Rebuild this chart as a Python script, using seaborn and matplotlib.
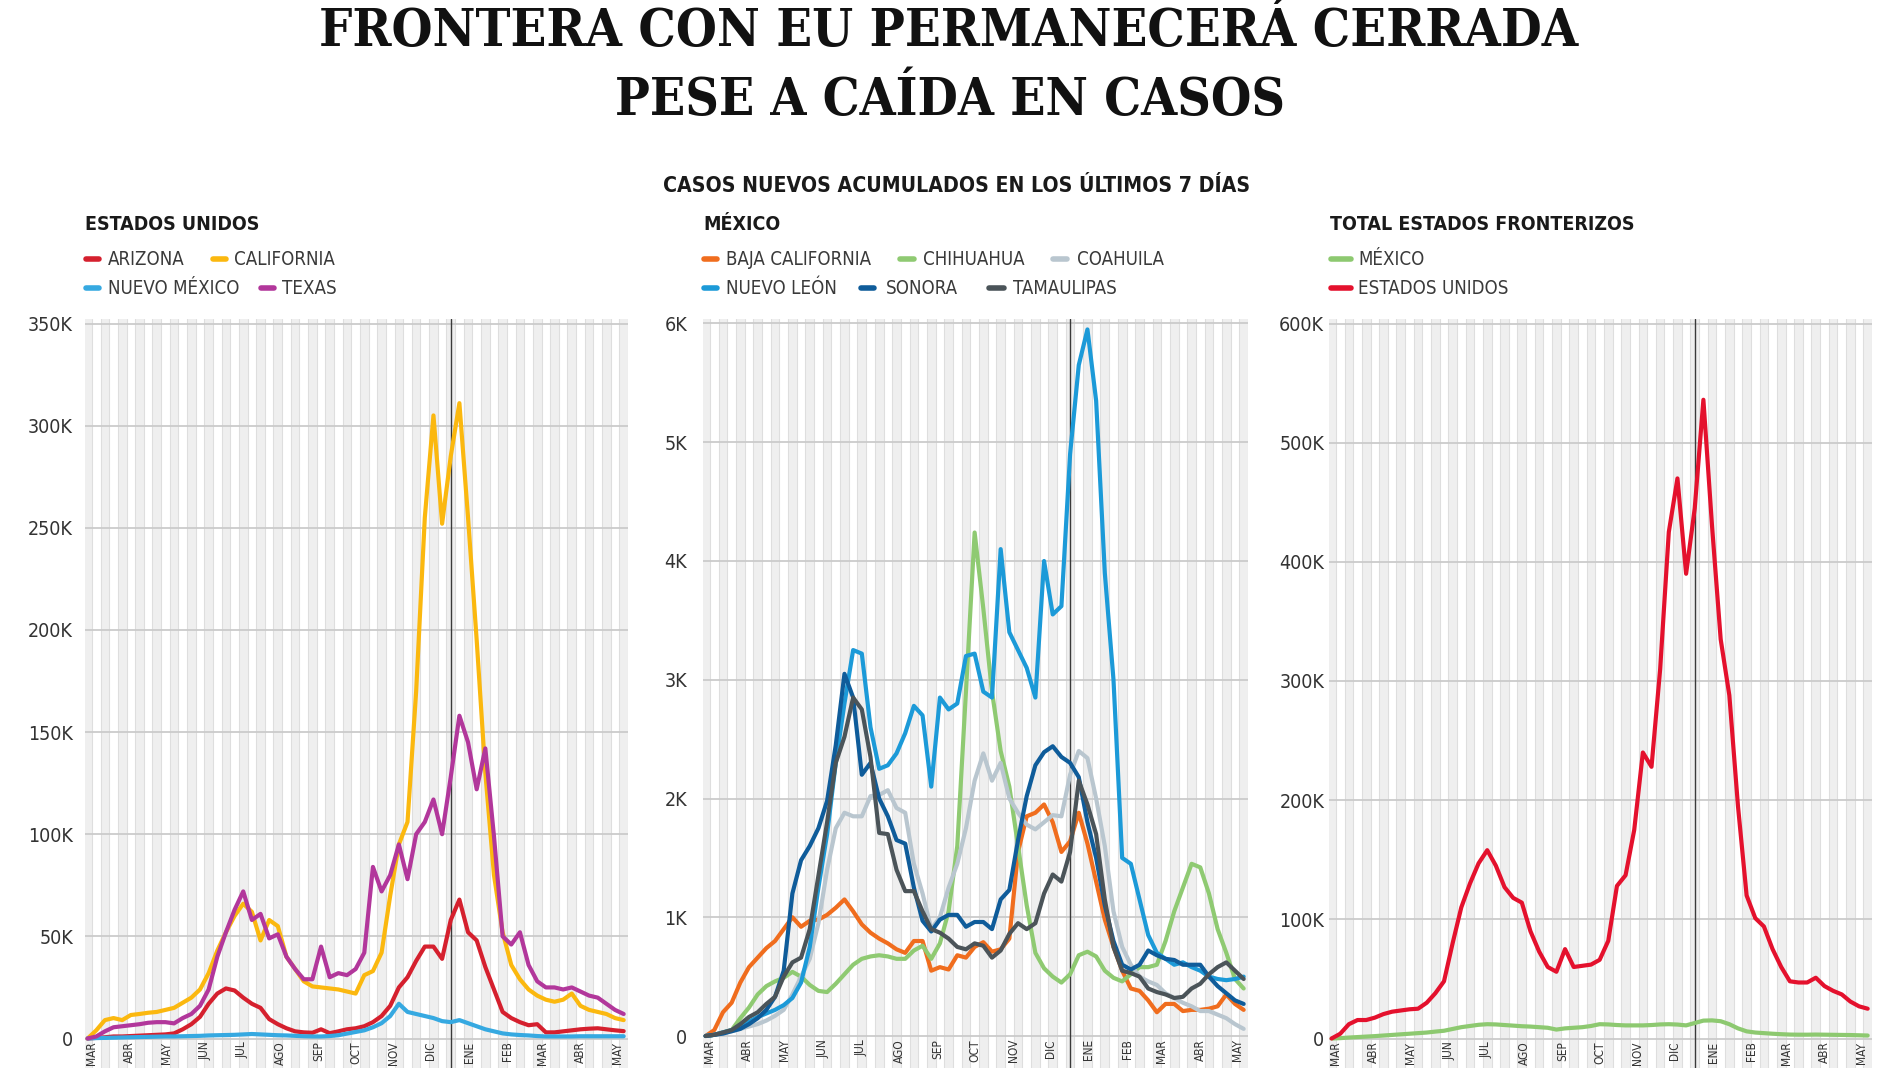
import numpy as np
import pandas as pd
import matplotlib
matplotlib.use("Agg")
import matplotlib.pyplot as plt
import matplotlib.dates as mdates
import seaborn as sns
from matplotlib.lines import Line2D
from matplotlib import font_manager as fm

# ---------------- DATA (weekly 7-day new cases, in thousands) ----------------
fecha_inicio = "2020-03-13"
n_semanas = 63

arizona = [0, 0.3, 0.6, 1, 1, 1.2, 1.4, 1.6, 1.8, 2,
           2.5, 4.5, 7, 10.6, 17, 22, 24.5, 23.5, 20, 17,
           15, 9.5, 7, 5, 3.5, 3, 2.8, 4.5, 2.6, 3.5,
           4.5, 5, 6, 8, 11, 16, 25, 30, 38, 45,
           45, 39, 58, 68, 52, 48, 35, 24, 13, 10,
           8, 6.5, 7, 3, 3, 3.5, 4, 4.5, 4.8, 5,
           4.5, 4, 3.6]
california = [0, 4, 9, 10, 9, 11.5, 12, 12.6, 13, 14,
              15, 17.5, 20, 24, 32, 43, 52, 60, 66, 62,
              48, 58, 55, 40, 34, 28, 25.5, 25, 24.5, 24,
              23, 22, 31, 33, 42, 70, 95, 106, 170, 255,
              305, 252, 285, 311, 255, 195, 130, 80, 52, 36,
              29, 24, 21, 19, 18, 19, 22, 16, 14, 13,
              12, 10, 9]
nuevo_mexico = [0, 0.2, 0.3, 0.4, 0.5, 0.6, 0.7, 0.8, 0.9, 1,
                1, 1.1, 1.2, 1.3, 1.5, 1.6, 1.7, 1.8, 2, 2.2,
                2, 1.8, 1.6, 1.5, 1.3, 1.1, 1, 1, 1.2, 1.6,
                2.4, 3.2, 4, 5.5, 7.5, 11, 17, 13, 12, 11,
                10, 8.5, 8, 9, 7.5, 6, 4.5, 3.5, 2.5, 2,
                1.7, 1.5, 1.2, 1, 1, 1, 1, 1.1, 1.1, 1.1,
                1.1, 1.1, 1.1]
texas = [0, 1, 3.5, 5.5, 6, 6.5, 7, 7.7, 8, 8,
         7.4, 10, 12, 16, 24, 40, 52, 63, 72, 58,
         61, 49, 51, 40, 34, 29, 29, 45, 30, 32,
         31, 34, 42, 84, 72, 80, 95, 78, 100, 106,
         117, 100, 128, 158, 145, 122, 142, 99, 50, 46,
         52, 36, 28, 25, 25, 24, 25, 23, 21, 20,
         17, 14, 12]

baja_california = [0, 0.05, 0.2, 0.28, 0.45, 0.58, 0.66, 0.74, 0.8, 0.9,
                   1.0, 0.92, 0.97, 0.98, 1.02, 1.08, 1.15, 1.05, 0.94, 0.87,
                   0.82, 0.78, 0.73, 0.7, 0.8, 0.8, 0.55, 0.58, 0.56, 0.68,
                   0.66, 0.75, 0.79, 0.71, 0.73, 0.82, 1.55, 1.85, 1.88, 1.95,
                   1.8, 1.55, 1.64, 1.88, 1.62, 1.3, 0.98, 0.75, 0.55, 0.4,
                   0.38, 0.3, 0.2, 0.27, 0.27, 0.21, 0.22, 0.22, 0.23, 0.25,
                   0.35, 0.27, 0.22]
chihuahua = [0, 0.01, 0.03, 0.05, 0.15, 0.24, 0.35, 0.42, 0.46, 0.49,
             0.54, 0.5, 0.43, 0.38, 0.37, 0.44, 0.52, 0.6, 0.65, 0.67,
             0.68, 0.67, 0.65, 0.65, 0.72, 0.76, 0.65, 0.78, 1.05, 1.6,
             2.9, 4.24, 3.6, 2.9, 2.4, 2.1, 1.6, 1.1, 0.7, 0.57,
             0.5, 0.45, 0.52, 0.68, 0.71, 0.67, 0.55, 0.49, 0.46, 0.52,
             0.58, 0.58, 0.6, 0.8, 1.05, 1.25, 1.45, 1.42, 1.2, 0.9,
             0.7, 0.48, 0.4]
coahuila = [0, 0.01, 0.03, 0.04, 0.06, 0.08, 0.1, 0.13, 0.17, 0.22,
            0.35, 0.5, 0.65, 0.95, 1.4, 1.75, 1.88, 1.85, 1.85, 2.02,
            2.03, 2.07, 1.92, 1.88, 1.45, 1.2, 0.9, 1.0, 1.25, 1.45,
            1.75, 2.15, 2.38, 2.15, 2.3, 2.0, 1.88, 1.78, 1.74, 1.8,
            1.86, 1.85, 2.2, 2.4, 2.34, 2.0, 1.6, 1.05, 0.75, 0.6,
            0.5, 0.46, 0.43, 0.36, 0.32, 0.28, 0.25, 0.21, 0.21, 0.18,
            0.15, 0.1, 0.06]
nuevo_leon = [0, 0.01, 0.03, 0.05, 0.08, 0.12, 0.16, 0.19, 0.22, 0.26,
              0.32, 0.45, 0.75, 1.25, 1.7, 2.3, 2.8, 3.25, 3.22, 2.6,
              2.25, 2.28, 2.38, 2.55, 2.78, 2.7, 2.1, 2.85, 2.75, 2.8,
              3.2, 3.22, 2.9, 2.85, 4.1, 3.4, 3.25, 3.1, 2.85, 4.0,
              3.55, 3.62, 4.9, 5.65, 5.95, 5.35, 3.9, 3.0, 1.5, 1.45,
              1.15, 0.85, 0.7, 0.65, 0.6, 0.62, 0.58, 0.55, 0.5, 0.48,
              0.47, 0.48, 0.5]
sonora = [0, 0.01, 0.02, 0.04, 0.06, 0.1, 0.15, 0.22, 0.33, 0.55,
          1.2, 1.48, 1.6, 1.75, 1.98, 2.45, 3.05, 2.85, 2.2, 2.3,
          2.0, 1.85, 1.65, 1.62, 1.25, 0.97, 0.88, 0.98, 1.02, 1.02,
          0.92, 0.96, 0.96, 0.9, 1.15, 1.23, 1.65, 2.02, 2.28, 2.39,
          2.44, 2.35, 2.3, 2.18, 1.8, 1.5, 1.1, 0.8, 0.6, 0.56,
          0.6, 0.72, 0.68, 0.65, 0.64, 0.6, 0.6, 0.6, 0.5, 0.42,
          0.36, 0.3, 0.27]
tamaulipas = [0, 0.01, 0.03, 0.05, 0.1, 0.16, 0.2, 0.27, 0.33, 0.5,
              0.62, 0.66, 0.9, 1.35, 1.8, 2.3, 2.52, 2.85, 2.75, 2.35,
              1.71, 1.7, 1.4, 1.22, 1.22, 1.05, 0.9, 0.87, 0.82, 0.75,
              0.73, 0.78, 0.76, 0.66, 0.72, 0.86, 0.95, 0.9, 0.95, 1.2,
              1.36, 1.3, 1.55, 2.15, 1.95, 1.7, 1.15, 0.75, 0.55, 0.53,
              0.5, 0.4, 0.37, 0.35, 0.32, 0.33, 0.4, 0.44, 0.52, 0.58,
              0.62, 0.55, 0.48]

total_eeuu = [0, 4, 12, 15.5, 15.5, 17.5, 20.5, 22.5, 23.5, 24.5,
              25, 30, 38, 48, 80, 110, 130, 147, 158, 145,
              127, 118, 114, 90, 73, 60, 56, 75, 60, 61,
              62, 66, 82, 128, 137, 175, 240, 228, 310, 425,
              470, 390, 445, 536, 430, 335, 288, 195, 120, 101,
              94, 75, 60, 48, 47, 47, 51, 44, 40, 37,
              31, 27, 25]
total_mexico = [0, 0.3, 0.8, 1.2, 1.6, 2, 2.5, 3, 3.5, 4,
                4.5, 5, 5.8, 6.5, 8, 9.5, 10.5, 11.5, 12, 11.8,
                11.3, 10.8, 10.3, 10, 9.5, 9, 7.5, 8.5, 9, 9.5,
                10.5, 12, 11.8, 11.3, 11, 11, 11, 11.3, 11.8, 12,
                11.7, 11, 13, 15, 15.2, 14.5, 12, 8.5, 6, 5,
                4.5, 4, 3.6, 3.3, 3.2, 3.2, 3.3, 3.2, 3.1, 3.0,
                2.9, 2.7, 2.5]

meses = ["MAR", "ABR", "MAY", "JUN", "JUL", "AGO", "SEP", "OCT", "NOV",
         "DIC", "ENE", "FEB", "MAR", "ABR", "MAY"]

eu_names = ["ARIZONA", "CALIFORNIA", "NUEVO MÉXICO", "TEXAS"]
eu_vals = [arizona, california, nuevo_mexico, texas]
eu_cols = ["#d5202e", "#fbb80f", "#36a9e1", "#b2379b"]
mx_names = ["BAJA CALIFORNIA", "CHIHUAHUA", "COAHUILA", "NUEVO LEÓN", "SONORA", "TAMAULIPAS"]
mx_vals = [baja_california, chihuahua, coahuila, nuevo_leon, sonora, tamaulipas]
mx_cols = ["#f06d1e", "#8fca72", "#b9c6cf", "#1c9ad8", "#0f5c9a", "#4b5459"]
tot_names = ["MÉXICO", "ESTADOS UNIDOS"]
tot_vals = [total_mexico, total_eeuu]
tot_cols = ["#8dc970", "#e4112d"]

# ---------------- FONTS ----------------
sns.set_theme(style="white")
entries = fm.fontManager.ttflist
names = {e.name for e in entries}


def has_cond(name):
    return any(e.name == name and str(e.stretch) in ("condensed", "semi-condensed", "extra-condensed")
               for e in entries)


if "Liberation Sans Narrow" in names:
    SANS, SSTR = "Liberation Sans Narrow", "normal"
elif has_cond("DejaVu Sans"):
    SANS, SSTR = "DejaVu Sans", "condensed"
elif "Roboto" in names:
    SANS, SSTR = "Roboto", "normal"
else:
    SANS, SSTR = "DejaVu Sans", "normal"

if has_cond("DejaVu Serif"):
    SERIF, TSTR = "DejaVu Serif", "condensed"
elif "Liberation Serif" in names:
    SERIF, TSTR = "Liberation Serif", "normal"
else:
    SERIF, TSTR = "DejaVu Serif", "normal"

plt.rcParams["font.family"] = [SANS, "DejaVu Sans"]
plt.rcParams["font.stretch"] = SSTR

W, H = 1900, 1068
fig = plt.figure(figsize=(W / 100, H / 100), dpi=100)
fig.patch.set_facecolor("white")

fechas = pd.date_range(fecha_inicio, periods=n_semanas, freq="7D")
d0 = mdates.date2num(fechas[0])
xlim = (d0 - 2.1, d0 + (n_semanas - 1) * 7 + 3.5)

fits = []  # (texts, ref_text, target_px, max_fs)
month_texts = []


def fx(x):
    return x / W


def fy(y):
    return 1 - y / H


def make_panel(left_px, right_px, top_px, zero_px, tick_top, step, unit_fmt, names_, vals_, cols_, pad):
    top_ax = 319
    ax = fig.add_axes([fx(left_px), 0, (right_px - left_px) / W, (H - top_ax) / H])
    ppu = (zero_px - top_px) / tick_top
    ymax = tick_top + (top_px - top_ax) / ppu
    ymin = -(H - zero_px) / ppu
    ax.set_facecolor("white")
    # weekly stripes
    for k in range(-1, n_semanas + 1):
        a = d0 + (k - 0.5) * 7
        if k % 2 == 0:
            ax.axvspan(a, a + 7, color="#efefef", lw=0, zorder=0.1)
        ax.axvline(a, color="#dedede", lw=0.8, zorder=0.2)
    df = pd.DataFrame({
        "fecha": np.tile(fechas, len(names_)),
        "estado": np.repeat(names_, n_semanas),
        "casos": np.concatenate([np.asarray(v, float) for v in vals_]),
    })
    sns.lineplot(data=df, x="fecha", y="casos", hue="estado", hue_order=names_,
                 palette=dict(zip(names_, cols_)), lw=3.0, legend=False, ax=ax,
                 estimator=None, sort=False, zorder=3)
    ax.axvline(mdates.date2num(pd.Timestamp("2021-01-01")), color="#3a3a3a", lw=1.0, zorder=2.5)
    ax.set_xlim(*xlim)
    ax.set_ylim(ymin, ymax)
    ticks = np.arange(0, tick_top + step / 2, step)
    ax.set_yticks(ticks)
    ax.set_yticklabels([("0" if t == 0 else unit_fmt(t)) for t in ticks])
    ax.yaxis.grid(True, color="#cbcbcb", lw=1.3)
    ax.set_axisbelow(True)
    ax.set_xticks([])
    ax.set_xlabel("")
    ax.set_ylabel("")
    for s in ax.spines.values():
        s.set_visible(False)
    ax.tick_params(axis="y", length=0, pad=pad, labelcolor="#333333")
    for lab in ax.get_yticklabels():
        lab.set_fontfamily([SANS, "DejaVu Sans"])
        lab.set_fontstretch(SSTR)
    # month labels (rotated, just below the zero line)
    ytop = (H - (zero_px + 3)) / (H - top_ax)
    for j, m in enumerate(meses):
        yr = 2020 if j < 10 else 2021
        mo = (3 + j - 1) % 12 + 1
        xm = mdates.date2num(pd.Timestamp(yr, mo, 16))
        t = ax.text(xm, ytop, m, transform=ax.get_xaxis_transform(), rotation=90,
                    ha="center", va="top", fontsize=11, color="#333333",
                    family=[SANS, "DejaVu Sans"], fontstretch=SSTR, zorder=4)
        month_texts.append(t)
    return ax


ax1 = make_panel(85, 628, 323.5, 1038.5, 350, 50, lambda t: f"{int(t)}K", eu_names, eu_vals, eu_cols, 8.6)
ax2 = make_panel(703, 1248, 323.5, 1036, 6, 1, lambda t: f"{int(t)}K", mx_names, mx_vals, mx_cols, 11.5)
ax3 = make_panel(1329, 1872, 323.5, 1038.5, 600, 100, lambda t: f"{int(t)}K", tot_names, tot_vals, tot_cols, 3.5)

# ---------------- TEXTS ----------------
t1 = fig.text(fx(949), fy(46), "FRONTERA CON EU PERMANECERÁ CERRADA", ha="center", va="baseline",
              fontsize=44, fontweight="bold", family=[SERIF, "DejaVu Serif"], fontstretch=TSTR, color="#111111")
t2 = fig.text(fx(950), fy(115), "PESE A CAÍDA EN CASOS", ha="center", va="baseline",
              fontsize=44, fontweight="bold", family=[SERIF, "DejaVu Serif"], fontstretch=TSTR, color="#111111")
fits.append(([t1], t1, 1258, 50))
fits.append(([t2], t2, 669, 50))

sub = fig.text(fx(957), fy(192), "CASOS NUEVOS ACUMULADOS EN LOS ÚLTIMOS 7 DÍAS", ha="center",
               va="baseline", fontsize=14, fontweight="bold", color="#1a1a1a")
fits.append(([sub], sub, 586, 20))

h1 = fig.text(fx(85), fy(230), "ESTADOS UNIDOS", ha="left", va="baseline", fontsize=13, fontweight="bold", color="#1a1a1a")
h2 = fig.text(fx(703), fy(230), "MÉXICO", ha="left", va="baseline", fontsize=13, fontweight="bold", color="#1a1a1a")
h3 = fig.text(fx(1330), fy(230), "TOTAL ESTADOS FRONTERIZOS", ha="left", va="baseline", fontsize=13,
              fontweight="bold", color="#1a1a1a")
fits.append(([h1, h2, h3], h3, 303, 18))

# legend entries: (label, color, marker x0, marker x1, label x, row baseline y)
r1, r2 = 265, 294
leg = [
    ("ARIZONA", eu_cols[0], 86, 99, 108, r1),
    ("CALIFORNIA", eu_cols[1], 213, 226, 234, r1),
    ("NUEVO MÉXICO", eu_cols[2], 86, 99, 108, r2),
    ("TEXAS", eu_cols[3], 261, 274, 282, r2),
    ("BAJA CALIFORNIA", mx_cols[0], 704, 717, 726, r1),
    ("CHIHUAHUA", mx_cols[1], 900, 914, 923, r1),
    ("COAHUILA", mx_cols[2], 1053, 1067, 1077, r1),
    ("NUEVO LEÓN", mx_cols[3], 704, 717, 726, r2),
    ("SONORA", mx_cols[4], 861, 874, 886, r2),
    ("TAMAULIPAS", mx_cols[5], 989, 1004, 1013, r2),
    ("MÉXICO", tot_cols[0], 1331, 1351, 1358, r1),
    ("ESTADOS UNIDOS", tot_cols[1], 1331, 1351, 1358, r2),
]
leg_texts = []
ref = None
for lab, col, x0, x1, xl, yb in leg:
    ym = fy(yb - 6)
    fig.add_artist(Line2D([fx(x0), fx(x1)], [ym, ym], transform=fig.transFigure, color=col,
                          lw=4, solid_capstyle="round"))
    t = fig.text(fx(xl), fy(yb), lab, ha="left", va="baseline", fontsize=11, color="#3a3a3a")
    leg_texts.append(t)
    if lab == "BAJA CALIFORNIA":
        ref = t
fits.append((leg_texts, ref, 145, 15))

# ---------------- FIT TEXT SIZES TO MEASURED WIDTHS ----------------
fig.canvas.draw()
r = fig.canvas.get_renderer()
for texts, rt, target, mx in fits:
    w = rt.get_window_extent(r).width
    fs = rt.get_fontsize() * target / w
    fs = min(fs, mx)
    for t in texts:
        t.set_fontsize(fs)

# y tick labels: fit "350K" to ~45 px
lab350 = [l for l in ax1.get_yticklabels() if l.get_text() == "350K"][0]
w = lab350.get_window_extent(r).width
tfs = min(lab350.get_fontsize() * 45 / w, 16)
for ax in (ax1, ax2, ax3):
    ax.tick_params(axis="y", labelsize=tfs)

# month labels: shrink so every rotated label fits above the figure's bottom edge
scale = 1.0
for t in month_texts:
    bb = t.get_window_extent(r)
    if bb.y0 < 2:
        avail = bb.y1 - 2
        scale = min(scale, avail / bb.height)
for t in month_texts:
    t.set_fontsize(t.get_fontsize() * scale * 0.98)

fig.savefig("out.png", dpi=100, facecolor="white")
